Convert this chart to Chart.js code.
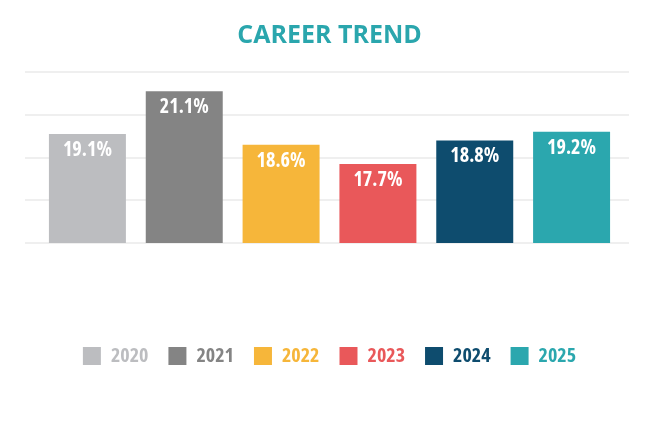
<!DOCTYPE html>
<html>
<head>
<meta charset="utf-8">
<title>Career Trend</title>
<script src="https://cdn.jsdelivr.net/npm/chart.js@4.4.0/dist/chart.umd.min.js"></script>
<style>
  html, body { margin: 0; padding: 0; background: #ffffff; }
  #wrap { width: 660px; height: 424px; position: relative; }
</style>
</head>
<body>
<div id="wrap"><canvas id="careerChart"></canvas></div>
<script>
// data
const years = ['2020', '2021', '2022', '2023', '2024', '2025'];
const shares = [19.1, 21.1, 18.6, 17.7, 18.8, 19.2];
const barColors = ['#bcbdc0', '#848484', '#f6b63a', '#e9585a', '#0e4c6e', '#2ba7ae'];
const tickValues = [14, 16, 18, 20, 22];

const baseFont = "'Open Sans', sans-serif";

// light gridlines that run a bit past the bars on both sides
const wideGrid = {
    id: 'wideGrid',
    beforeDatasetsDraw(chart) {
        const { ctx, chartArea, scales: { y } } = chart;
        ctx.save();
        ctx.strokeStyle = '#efefef';
        ctx.lineWidth = 2;
        tickValues.forEach(v => {
            const py = Math.round(y.getPixelForValue(v));
            ctx.beginPath();
            ctx.moveTo(chartArea.left - 14, py);
            ctx.lineTo(chartArea.right + 9, py);
            ctx.stroke();
        });
        ctx.restore();
    }
};

// white value labels inside the top of each bar (squeezed to look condensed)
const barLabels = {
    id: 'barLabels',
    afterDatasetsDraw(chart) {
        const { ctx } = chart;
        const meta = chart.getDatasetMeta(0);
        ctx.save();
        ctx.fillStyle = '#ffffff';
        ctx.font = 'bold condensed 21px ' + baseFont;
        ctx.textAlign = 'center';
        ctx.textBaseline = 'alphabetic';
        const squeeze = Math.min(1, 49 / ctx.measureText('19.1%').width);
        meta.data.forEach((bar, i) => {
            ctx.save();
            ctx.translate(bar.x, bar.y + 22);
            ctx.scale(squeeze, 1);
            ctx.fillText(shares[i].toFixed(1) + '%', 0, 0);
            ctx.restore();
        });
        ctx.restore();
    }
};

const ctx = document.getElementById('careerChart').getContext('2d');

new Chart(ctx, {
    type: 'bar',
    data: {
        labels: years,
        datasets: [{
            label: 'Career trend',
            data: shares,
            backgroundColor: barColors,
            borderWidth: 0,
            barPercentage: 0.795,
            categoryPercentage: 1.0
        }]
    },
    options: {
        responsive: true,
        maintainAspectRatio: false,
        animation: false,
        layout: { padding: { top: 21, left: 39, right: 40, bottom: 48 } },
        scales: {
            x: {
                display: true,
                grid: { display: false, drawTicks: false },
                border: { display: false },
                ticks: { display: false },
                afterFit: (scale) => { scale.height = 83; }
            },
            y: {
                display: false,
                min: 14,
                max: 22,
                ticks: { stepSize: 2 }
            }
        },
        plugins: {
            title: {
                display: true,
                text: 'CAREER TREND',
                color: '#2aa6ad',
                font: { family: baseFont, size: 25, weight: 'bold' },
                padding: { top: 0, bottom: 21 }
            },
            legend: {
                position: 'bottom',
                onClick: () => {},
                labels: {
                    boxWidth: 18,
                    boxHeight: 18,
                    padding: 20,
                    font: { family: baseFont, size: 20, weight: 'bold condensed' },
                    generateLabels: () => years.map((yr, i) => ({
                        text: yr,
                        fillStyle: barColors[i],
                        strokeStyle: barColors[i],
                        lineWidth: 0,
                        fontColor: barColors[i],
                        hidden: false,
                        index: i,
                        datasetIndex: 0
                    }))
                }
            },
            tooltip: { enabled: false }
        }
    },
    plugins: [wideGrid, barLabels]
});
</script>
</body>
</html>
